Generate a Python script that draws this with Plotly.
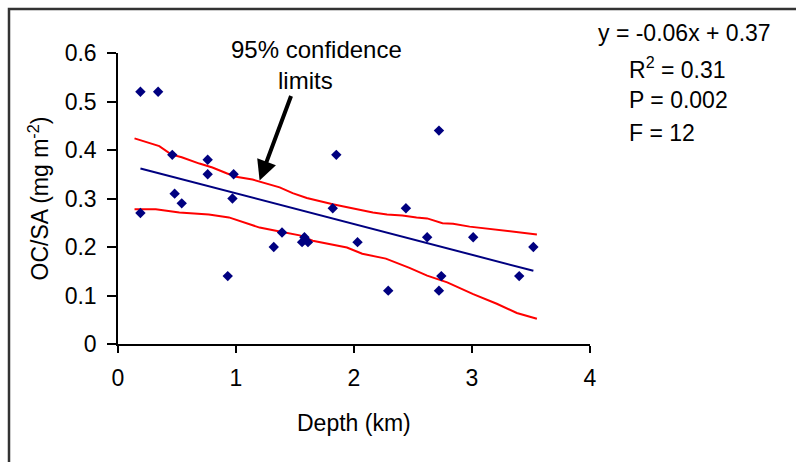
import plotly.graph_objects as go

# ---- data ----
depth_km = [0.19, 0.34, 0.46, 0.19, 0.48, 0.54, 0.76, 0.76, 0.98, 0.97, 0.93,
            1.32, 1.39, 1.56, 1.58, 1.61, 1.82, 1.85, 2.03, 2.29, 2.44, 2.62,
            2.72, 2.74, 2.72, 3.01, 3.40, 3.52]
oc_sa = [0.52, 0.52, 0.39, 0.27, 0.31, 0.29, 0.38, 0.35, 0.35, 0.30, 0.14,
         0.20, 0.23, 0.21, 0.22, 0.21, 0.28, 0.39, 0.21, 0.11, 0.28, 0.22,
         0.44, 0.14, 0.11, 0.22, 0.14, 0.20]

fit_x = [0.19, 3.52]
fit_y = [0.362, 0.151]

upper_x = [0.14, 0.35, 0.45, 0.54, 0.69, 0.80, 0.92, 1.00, 1.14, 1.26, 1.37,
           1.48, 1.60, 1.82, 1.94, 2.05, 2.16, 2.28, 2.41, 2.53, 2.62, 2.75,
           2.84, 2.98, 3.13, 3.30, 3.41, 3.55]
upper_y = [0.424, 0.408, 0.391, 0.385, 0.372, 0.364, 0.352, 0.345, 0.339,
           0.331, 0.323, 0.311, 0.301, 0.288, 0.282, 0.275, 0.271, 0.267,
           0.265, 0.261, 0.259, 0.249, 0.248, 0.242, 0.238, 0.234, 0.230, 0.226]

lower_x = [0.14, 0.32, 0.52, 0.77, 0.94, 1.03, 1.20, 1.37, 1.54, 1.65, 1.82,
           1.94, 2.07, 2.27, 2.47, 2.62, 2.79, 3.01, 3.21, 3.38, 3.55]
lower_y = [0.278, 0.278, 0.271, 0.267, 0.261, 0.254, 0.240, 0.232, 0.224,
           0.213, 0.204, 0.199, 0.186, 0.176, 0.157, 0.141, 0.127, 0.103,
           0.083, 0.064, 0.052]

x_ticks = [0, 1, 2, 3, 4]
y_ticks = [0, 0.1, 0.2, 0.3, 0.4, 0.5, 0.6]
y_tick_text = ["0", "0.1", "0.2", "0.3", "0.4", "0.5", "0.6"]

stats_lines = ["y = -0.06x + 0.37", "R<sup>2</sup> = 0.31", "P = 0.002", "F = 12"]

FONT = "Liberation Sans, Arial, sans-serif"
FS = 23

fig = go.Figure()
fig.add_trace(go.Scatter(x=upper_x, y=upper_y, mode="lines",
                         line=dict(color="#FF0000", width=2), hoverinfo="skip"))
fig.add_trace(go.Scatter(x=lower_x, y=lower_y, mode="lines",
                         line=dict(color="#FF0000", width=2), hoverinfo="skip"))
fig.add_trace(go.Scatter(x=fit_x, y=fit_y, mode="lines",
                         line=dict(color="#000080", width=2), hoverinfo="skip"))
fig.add_trace(go.Scatter(x=depth_km, y=oc_sa, mode="markers",
                         marker=dict(symbol="diamond", size=8, color="#000080",
                                     line=dict(width=0))))

fig.update_layout(
    width=796, height=462,
    margin=dict(l=118, r=206, t=53, b=118),
    paper_bgcolor="white", plot_bgcolor="white",
    showlegend=False,
    font=dict(family=FONT, size=FS, color="black"),
)
fig.update_xaxes(range=[0, 4], tickvals=x_ticks, ticks="outside", ticklen=7,
                 tickcolor="black", tickwidth=1.5, showline=True, linecolor="black",
                 linewidth=1.5, showgrid=False, zeroline=False,
                 ticklabelstandoff=6)
fig.update_yaxes(range=[0, 0.6], tickvals=y_ticks, ticktext=y_tick_text,
                 ticks="outside", ticklen=9, tickcolor="black", tickwidth=1.5,
                 showline=True, linecolor="black", linewidth=1.5,
                 showgrid=False, zeroline=False, ticklabelstandoff=6)

# axis titles
fig.add_annotation(text="Depth (km)", xref="paper", yref="paper", x=0.5,
                   y=(344 - 423) / 291, yanchor="middle", showarrow=False)
fig.add_annotation(text="OC/SA (mg m<sup>-2</sup>)", xref="paper", yref="paper",
                   x=(38 - 118) / 472, y=0.5, xanchor="center", yanchor="middle",
                   textangle=-90, showarrow=False)

# arrow label
fig.add_annotation(text="95% confidence", xref="x", yref="paper",
                   x=(316 - 118) / 472 * 4, y=(344 - 49) / 291,
                   yanchor="middle", showarrow=False, font=dict(size=24))
fig.add_annotation(text="limits", xref="x", yref="paper",
                   x=(305 - 118) / 472 * 4, y=(344 - 80) / 291,
                   yanchor="middle", showarrow=False, font=dict(size=24))
fig.add_annotation(text="", x=1.20, y=0.337, xref="x", yref="y",
                   ax=32, ay=-86, axref="pixel", ayref="pixel",
                   showarrow=True, arrowhead=2, arrowsize=1, arrowwidth=4,
                   arrowcolor="black")

# statistics block
stat_y = [33, 68, 100, 133]
stat_x = [596, 627, 627, 627]
for txt, px, py in zip(stats_lines, stat_x, stat_y):
    fig.add_annotation(text=txt, xref="paper", yref="paper",
                       x=(px - 118) / 472, y=(344 - py) / 291,
                       xanchor="left", yanchor="middle", showarrow=False)

# outer frame (cut off at right and bottom)
fig.add_shape(type="rect", xref="paper", yref="paper",
              x0=(9 - 118) / 472, x1=(830 - 118) / 472,
              y0=(344 - 500) / 291, y1=(344 - 9) / 291,
              line=dict(color="#333333", width=2.5), fillcolor="rgba(0,0,0,0)",
              layer="below")

fig.write_html("out.html")
